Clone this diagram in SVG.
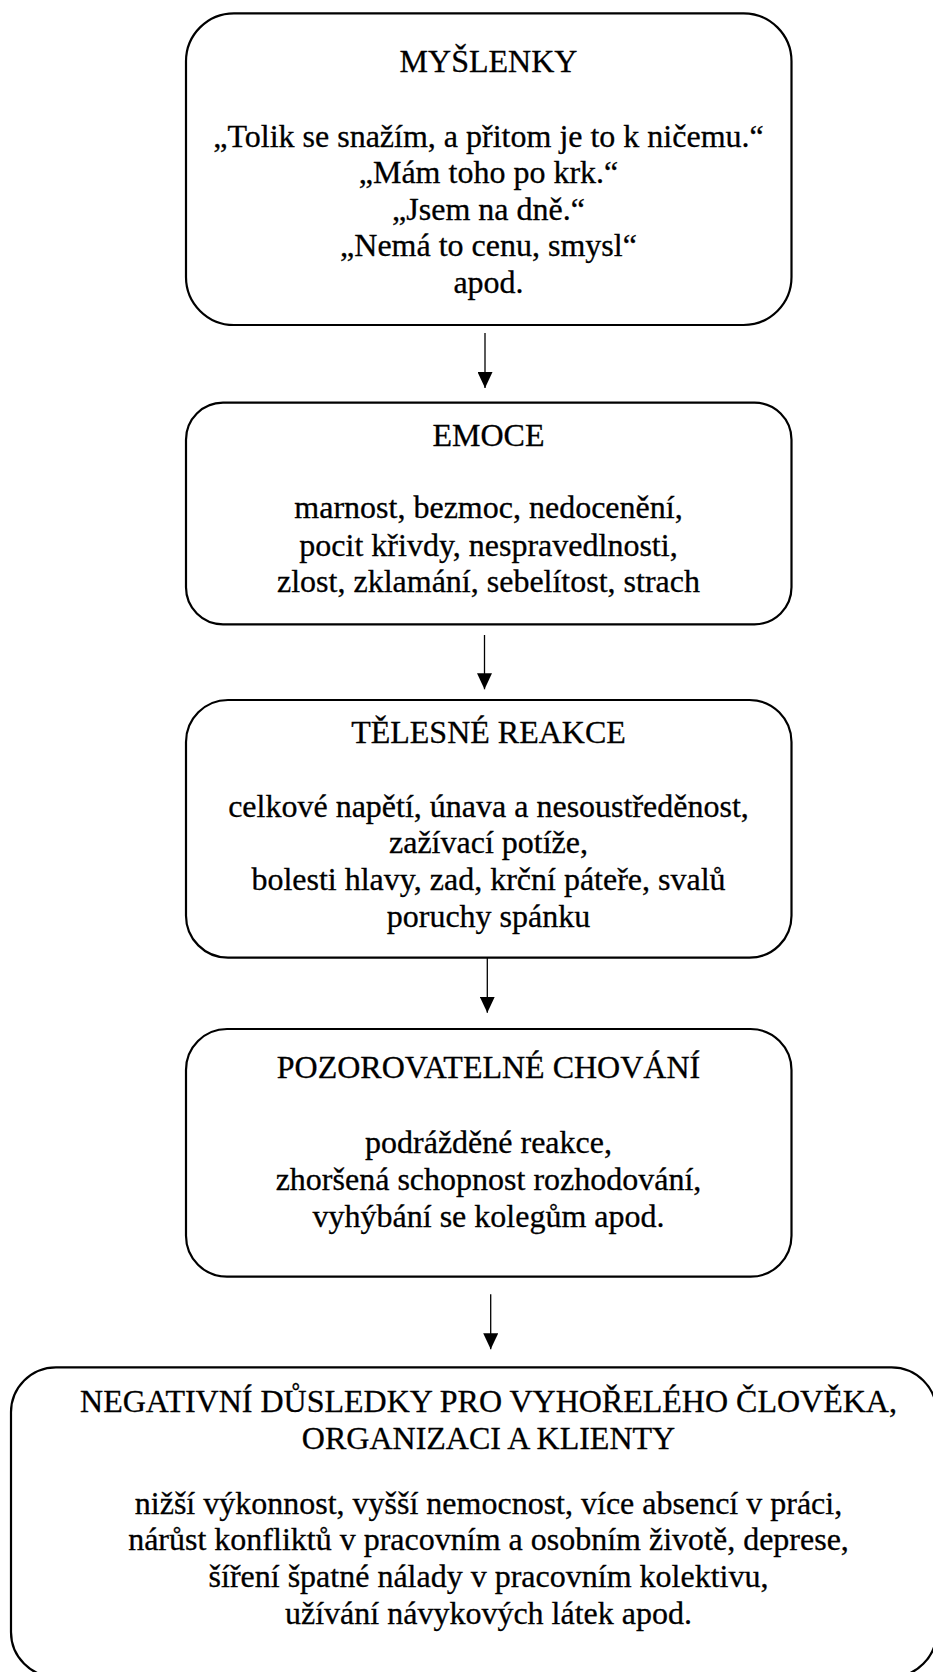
<svg xmlns="http://www.w3.org/2000/svg" width="933" height="1672" viewBox="0 0 933 1672">
  <style>
    .box { fill: #ffffff; stroke: #000000; stroke-width: 2.2; }
    .t { font-family: 'Liberation Serif', 'Times New Roman', serif; font-size: 32px; fill: #000000; stroke: #000000; stroke-width: 0.3; text-anchor: middle; }
    .conn { stroke: #000000; stroke-width: 1.3; fill: none; marker-end: url(#arrow); }
  </style>
  <defs>
    <marker id="arrow" viewBox="0 0 16 15" refX="16" refY="7.5" markerWidth="16" markerHeight="15" markerUnits="userSpaceOnUse" orient="auto">
      <path d="M0,0 L16,7.5 L0,15 Z" fill="#000000"/>
    </marker>
  </defs>
  <rect width="933" height="1672" fill="#ffffff"/>

  <g id="connectors">
    <line class="conn" x1="485" y1="333" x2="485" y2="388"/>
    <line class="conn" x1="484.5" y1="635" x2="484.5" y2="689.3"/>
    <line class="conn" x1="487.3" y1="958" x2="487.3" y2="1012.7"/>
    <line class="conn" x1="490.7" y1="1294.3" x2="490.7" y2="1349.3"/>
  </g>

  <g id="myslenky">
    <rect class="box" x="186" y="13.3" width="605.5" height="311.7" rx="48" ry="48"/>
    <text class="t" x="488.5" y="71.7">MYŠLENKY</text>
    <text class="t" x="488.5" y="146.7">„Tolik se snažím, a přitom je to k ničemu.“</text>
    <text class="t" x="488.5" y="183.3">„Mám toho po krk.“</text>
    <text class="t" x="488.5" y="219.5">„Jsem na dně.“</text>
    <text class="t" x="488.5" y="256">„Nemá to cenu, smysl“</text>
    <text class="t" x="488.5" y="293.3">apod.</text>
  </g>

  <g id="emoce">
    <rect class="box" x="186" y="402.7" width="605.5" height="221.6" rx="37" ry="37"/>
    <text class="t" x="488.5" y="445.7">EMOCE</text>
    <text class="t" x="488.5" y="518.3">marnost, bezmoc, nedocenění,</text>
    <text class="t" x="488.5" y="555.5">pocit křivdy, nespravedlnosti,</text>
    <text class="t" x="488.5" y="592.3">zlost, zklamání, sebelítost, strach</text>
  </g>

  <g id="telesne-reakce">
    <rect class="box" x="186" y="700" width="605.5" height="257.7" rx="42" ry="42"/>
    <text class="t" x="488.5" y="742.7">TĚLESNÉ REAKCE</text>
    <text class="t" x="488.5" y="816.7">celkové napětí, únava a nesoustředěnost,</text>
    <text class="t" x="488.5" y="853.3">zažívací potíže,</text>
    <text class="t" x="488.5" y="890">bolesti hlavy, zad, krční páteře, svalů</text>
    <text class="t" x="488.5" y="926.7">poruchy spánku</text>
  </g>

  <g id="pozorovatelne-chovani">
    <rect class="box" x="186" y="1029" width="605.5" height="247.7" rx="41" ry="41"/>
    <text class="t" x="488.5" y="1078.3">POZOROVATELNÉ CHOVÁNÍ</text>
    <text class="t" x="488.5" y="1153.3">podrážděné reakce,</text>
    <text class="t" x="488.5" y="1190">zhoršená schopnost rozhodování,</text>
    <text class="t" x="488.5" y="1226.7">vyhýbání se kolegům apod.</text>
  </g>

  <g id="negativni-dusledky">
    <rect class="box" x="11" y="1367.3" width="925.5" height="309.7" rx="45" ry="45"/>
    <text class="t" x="488.5" y="1412">NEGATIVNÍ DŮSLEDKY PRO VYHOŘELÉHO ČLOVĚKA,</text>
    <text class="t" x="488.5" y="1448.7">ORGANIZACI A KLIENTY</text>
    <text class="t" x="488.5" y="1513.7">nižší výkonnost, vyšší nemocnost, více absencí v práci,</text>
    <text class="t" x="488.5" y="1550.3">nárůst konfliktů v pracovním a osobním životě, deprese,</text>
    <text class="t" x="488.5" y="1587">šíření špatné nálady v pracovním kolektivu,</text>
    <text class="t" x="488.5" y="1623.7">užívání návykových látek apod.</text>
  </g>
</svg>
